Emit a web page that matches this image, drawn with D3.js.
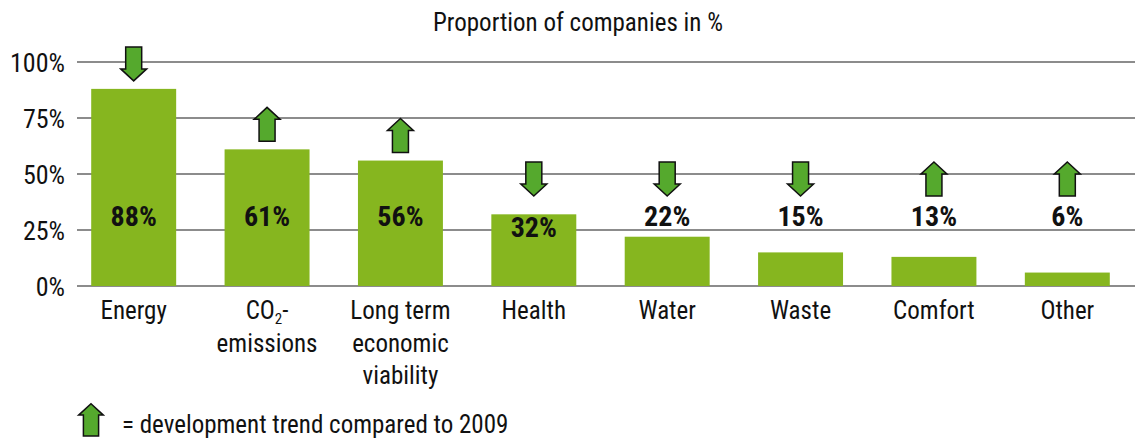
<!DOCTYPE html>
<html>
<head>
<meta charset="utf-8">
<script src="https://cdn.jsdelivr.net/npm/d3@7"></script>
<style>
  html, body { margin: 0; padding: 0; background: #fff; }
  svg { display: block; }
  text { font-family: "Liberation Sans Narrow", "Roboto Condensed", "DejaVu Sans Condensed", sans-serif; fill: #111; }
</style>
</head>
<body>
<svg id="chart" width="1135" height="441"></svg>
<script>
// Share of companies naming each topic, in percent
const categories = ["Energy", "CO2-emissions", "Long term economic viability", "Health", "Water", "Waste", "Comfort", "Other"];
const categoryLines = [["Energy"], ["CO2-", "emissions"], ["Long term", "economic", "viability"], ["Health"], ["Water"], ["Waste"], ["Comfort"], ["Other"]];
const values = [88, 61, 56, 32, 22, 15, 13, 6];
// Change since 2009
const trends = ["down", "up", "up", "down", "down", "down", "up", "up"];
const yTicks = [0, 25, 50, 75, 100];
const title = "Proportion of companies in %";
const legendText = "= development trend compared to 2009";

const W = 1135, H = 441;
const svg = d3.select("#chart");

const BAR = "#86b61f", ARROW = "#55a92d", GRID = "#8c8c8c";

const x = d3.scaleBand()
  .domain(categories)
  .range([67, 1134])
  .paddingInner(0.363)
  .paddingOuter(0.1815);

const y = d3.scaleLinear().domain([0, 100]).range([286, 62]);

// Title
svg.append("text")
  .attr("x", 578).attr("y", 31)
  .attr("text-anchor", "middle")
  .style("font-size", "25px")
  .text(title);

// Gridlines
svg.append("g")
  .selectAll("line")
  .data(yTicks)
  .join("line")
  .attr("x1", 77).attr("x2", W)
  .attr("y1", d => y(d)).attr("y2", d => y(d))
  .attr("stroke", GRID).attr("stroke-width", 2);

// Y axis labels
const yAxis = d3.axisLeft(y).tickValues(yTicks).tickFormat(d => d + "%").tickSize(0).tickPadding(0);
const gy = svg.append("g").attr("transform", "translate(65,0)").call(yAxis);
gy.select(".domain").remove();
gy.selectAll("text")
  .attr("dy", "0.35em")
  .style("font-size", "26px")
  .style("font-family", null)
  .attr("fill", "#111");

// Bars
svg.append("g")
  .selectAll("rect")
  .data(values)
  .join("rect")
  .attr("x", (d, i) => x(categories[i]))
  .attr("width", x.bandwidth())
  .attr("y", d => y(d))
  .attr("height", d => y(0) - y(d))
  .attr("fill", BAR);

// Value labels: common row, pushed into the bar when the bar top is close
const labelBase = 226, capH = 20;
const labelY = values.map(v => {
  const top = y(v);
  if (v >= 30) return Math.max(labelBase, top + capH + 3);
  return Math.min(labelBase, top - 3);
});
svg.append("g")
  .selectAll("text")
  .data(values)
  .join("text")
  .attr("x", (d, i) => x(categories[i]) + x.bandwidth() / 2)
  .attr("y", (d, i) => labelY[i])
  .attr("text-anchor", "middle")
  .style("font-size", "28px")
  .style("font-weight", "bold")
  .text(d => d + "%");

// Trend arrows
function arrowPath(cx, bottom, dir, s = 1) {
  const hw = 13 * s, sw = 8 * s, hh = 12 * s, len = 34 * s;
  const top = bottom - len;
  if (dir === "up") {
    return `M${cx},${top} L${cx + hw},${top + hh} L${cx + sw},${top + hh} L${cx + sw},${bottom} L${cx - sw},${bottom} L${cx - sw},${top + hh} L${cx - hw},${top + hh} Z`;
  }
  return `M${cx},${bottom} L${cx + hw},${bottom - hh} L${cx + sw},${bottom - hh} L${cx + sw},${top} L${cx - sw},${top} L${cx - sw},${bottom - hh} L${cx - hw},${bottom - hh} Z`;
}
svg.append("g")
  .selectAll("path")
  .data(trends)
  .join("path")
  .attr("d", (t, i) => {
    const cx = x(categories[i]) + x.bandwidth() / 2;
    const bottom = Math.min(y(values[i]) - 8, 196);
    return arrowPath(cx, bottom, t);
  })
  .attr("fill", ARROW)
  .attr("stroke", "#111")
  .attr("stroke-width", 1.5)
  .attr("stroke-linejoin", "miter");

// Category labels
const gx = svg.append("g");
categoryLines.forEach((lines, i) => {
  const cx = x(categories[i]) + x.bandwidth() / 2;
  lines.forEach((line, j) => {
    const t = gx.append("text")
      .attr("x", cx).attr("y", 319 + j * 32.5)
      .attr("text-anchor", "middle")
      .style("font-size", "25px");
    if (line === "CO2-") {
      t.append("tspan").text("CO");
      t.append("tspan").attr("dy", 5).style("font-size", "15px").text("2");
      t.append("tspan").attr("dy", -5).text("-");
    } else {
      t.text(line);
    }
  });
});

// Legend
svg.append("path")
  .attr("d", arrowPath(91, 436, "up", 0.95))
  .attr("fill", ARROW)
  .attr("stroke", "#111")
  .attr("stroke-width", 1.5);
svg.append("text")
  .attr("x", 122).attr("y", 433)
  .style("font-size", "25px")
  .text(legendText);
</script>
</body>
</html>
